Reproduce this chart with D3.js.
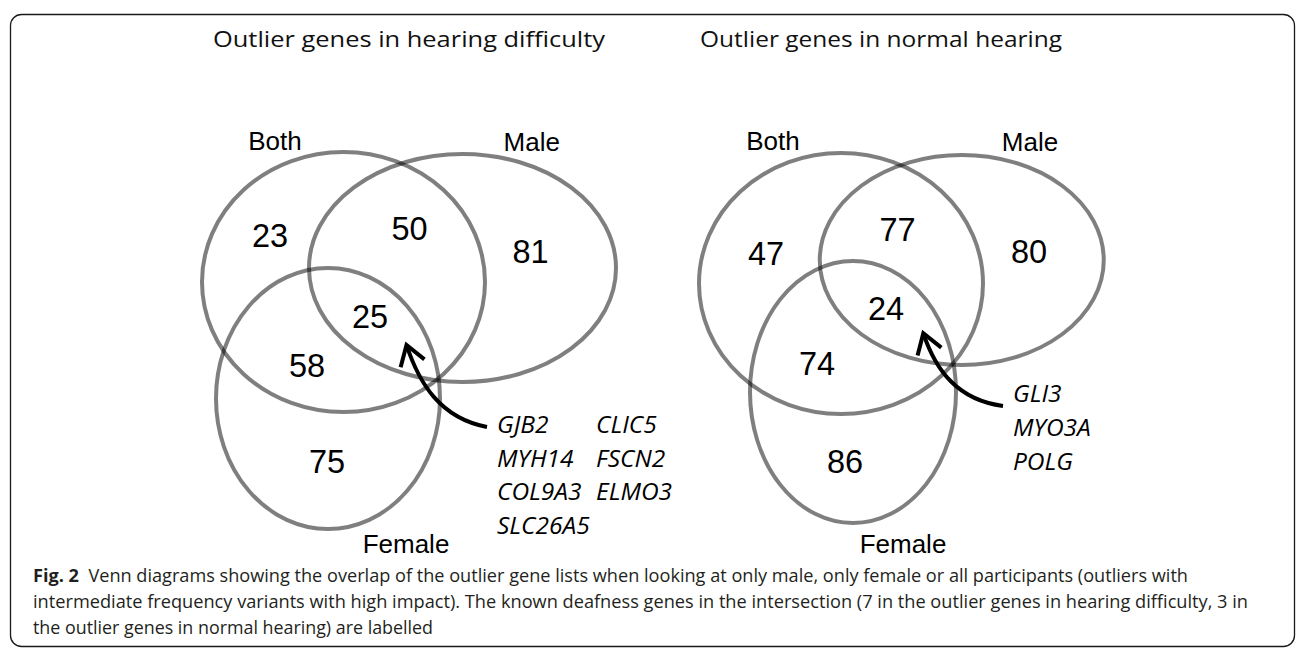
<!DOCTYPE html>
<html><head><meta charset="utf-8">
<script src="https://cdn.jsdelivr.net/npm/d3@7"></script>
<style>html,body{margin:0;padding:0;background:#fff;} svg{display:block;}</style>
</head><body>
<svg id="chart" width="1296" height="649"></svg>
<script>
// ---------- data ----------
const setNames = ["Both", "Male", "Female"];
const panelTitles = ["Outlier genes in hearing difficulty", "Outlier genes in normal hearing"];
const regionNames = ["Both only", "Both & Male", "Male only", "Both & Male & Female", "Both & Female", "Female only"];
const hearingDifficultyCounts = [23, 50, 81, 25, 58, 75];
const normalHearingCounts = [47, 77, 80, 24, 74, 86];
const hearingDifficultyGenesCol1 = ["GJB2", "MYH14", "COL9A3", "SLC26A5"];
const hearingDifficultyGenesCol2 = ["CLIC5", "FSCN2", "ELMO3"];
const normalHearingGenes = ["GLI3", "MYO3A", "POLG"];
const captionBold = "Fig. 2";
const captionLines = [
  "Venn diagrams showing the overlap of the outlier gene lists when looking at only male, only female or all participants (outliers with",
  "intermediate frequency variants with high impact). The known deafness genes in the intersection (7 in the outlier genes in hearing difficulty, 3 in",
  "the outlier genes in normal hearing) are labelled"
];

// ---------- layout ----------
const panels = [
  {
    title: panelTitles[0], titleX: 213, titleLen: 392,
    counts: hearingDifficultyCounts,
    ellipses: [{cx:343.5, cy:282, rx:141.5, ry:130}, {cx:462.5, cy:268, rx:153.5, ry:114}, {cx:328, cy:398.5, rx:112, ry:130.5}],
    setLabelPos: [[275,150],[531.7,151],[406,553]],
    countPos: [[270,247],[409.5,240],[530.5,263],[370,328],[307,377],[327,473]],
    geneCols: [{x:497, y0:433, genes:hearingDifficultyGenesCol1}, {x:596, y0:433, genes:hearingDifficultyGenesCol2}],
    geneStep: 33.5,
    arrow: [[487,427],[440,418],[419,383],[406.5,345]]
  },
  {
    title: panelTitles[1], titleX: 700, titleLen: 362,
    counts: normalHearingCounts,
    ellipses: [{cx:841, cy:283.5, rx:142, ry:130.5}, {cx:961.75, cy:260, rx:142, ry:105}, {cx:853, cy:392, rx:103, ry:131}],
    setLabelPos: [[773,150],[1030,151],[903,553]],
    countPos: [[766,265],[897.5,241],[1029,263],[886,320],[817,375],[845,473]],
    geneCols: [{x:1013, y0:402, genes:normalHearingGenes}],
    geneStep: 34,
    arrow: [[1003,406],[958,400],[936,371],[923.3,333.3]]
  }
];

const svg = d3.select("#chart");

// frame
svg.append("rect")
  .attr("x", 10.5).attr("y", 14.5).attr("width", 1284).attr("height", 632)
  .attr("rx", 11).attr("ry", 11)
  .attr("fill", "none").attr("stroke", "#1a1a1a").attr("stroke-width", 1.3);

panels.forEach(p => {
  const g = svg.append("g");
  // title
  g.append("text")
    .attr("x", p.titleX).attr("y", 47)
    .attr("font-family", "'Open Sans', sans-serif").attr("font-size", 22.5)
    .attr("fill", "#111")
    .attr("textLength", p.titleLen).attr("lengthAdjust", "spacingAndGlyphs")
    .text(p.title);

  // ellipses
  g.selectAll("ellipse.set").data(p.ellipses).join("ellipse")
    .attr("class", "set")
    .attr("cx", d => d.cx).attr("cy", d => d.cy)
    .attr("rx", d => d.rx).attr("ry", d => d.ry)
    .attr("fill", "none").attr("stroke", "#000")
    .attr("stroke-opacity", 0.5).attr("stroke-width", 4);

  // set labels
  g.selectAll("text.setlabel").data(setNames).join("text")
    .attr("class", "setlabel")
    .attr("x", (d, i) => p.setLabelPos[i][0]).attr("y", (d, i) => p.setLabelPos[i][1])
    .attr("text-anchor", "middle")
    .attr("font-family", "'Liberation Sans', Arial, sans-serif").attr("font-size", 26)
    .attr("fill", "#000")
    .text(d => d);

  // counts
  g.selectAll("text.count").data(p.counts).join("text")
    .attr("class", "count")
    .attr("x", (d, i) => p.countPos[i][0]).attr("y", (d, i) => p.countPos[i][1])
    .attr("text-anchor", "middle")
    .attr("font-family", "'Liberation Sans', Arial, sans-serif").attr("font-size", 32.5)
    .attr("fill", "#000")
    .text(d => d);

  // gene labels
  p.geneCols.forEach(col => {
    g.selectAll(null).data(col.genes).join("text")
      .attr("x", col.x).attr("y", (d, i) => col.y0 + i * p.geneStep)
      .attr("font-family", "'Open Sans', sans-serif").attr("font-style", "italic")
      .attr("font-size", 24.5).attr("fill", "#000")
      .text(d => d);
  });

  // arrow
  const [p0, c1, c2, p3] = p.arrow;
  const path = d3.path();
  path.moveTo(p0[0], p0[1]);
  path.bezierCurveTo(c1[0], c1[1], c2[0], c2[1], p3[0], p3[1]);
  g.append("path").attr("d", path.toString())
    .attr("fill", "none").attr("stroke", "#000").attr("stroke-width", 4);
  const dx = p3[0] - c2[0], dy = p3[1] - c2[1];
  const L = Math.hypot(dx, dy);
  const ux = -dx / L, uy = -dy / L; // back direction
  const ang = 33 * Math.PI / 180, len = 23;
  const arm = s => [p3[0] + len * (ux * Math.cos(s * ang) - uy * Math.sin(s * ang)),
                    p3[1] + len * (ux * Math.sin(s * ang) + uy * Math.cos(s * ang))];
  const a1 = arm(1), a2 = arm(-1);
  const head = d3.path();
  head.moveTo(a1[0], a1[1]); head.lineTo(p3[0], p3[1]); head.lineTo(a2[0], a2[1]);
  g.append("path").attr("d", head.toString())
    .attr("fill", "none").attr("stroke", "#000").attr("stroke-width", 4)
    .attr("stroke-linejoin", "miter");
});

// caption
const capLens = [1155, 1215, 400];
const capY = [582, 608, 634];
captionLines.forEach((line, i) => {
  const t = svg.append("text")
    .attr("x", 33).attr("y", capY[i])
    .attr("font-family", "'Open Sans', sans-serif").attr("font-size", 17.5)
    .attr("fill", "#231f20")
    .attr("textLength", capLens[i]).attr("lengthAdjust", "spacingAndGlyphs");
  if (i === 0) {
    t.append("tspan").attr("font-weight", "bold").text(captionBold);
    t.append("tspan").text("\u00a0 " + line);
  } else {
    t.text(line);
  }
});
</script>
</body></html>
